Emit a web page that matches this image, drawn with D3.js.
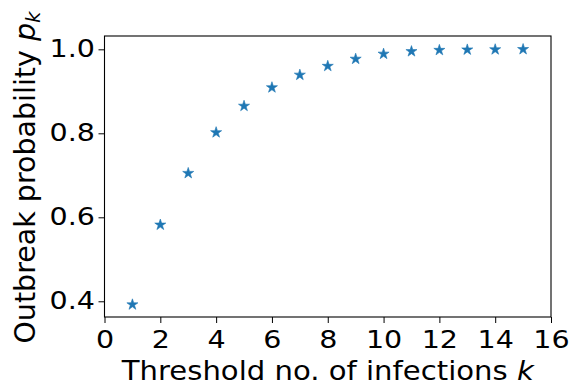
<!DOCTYPE html>
<html>
<head>
<meta charset="utf-8">
<script src="https://cdn.jsdelivr.net/npm/d3@7"></script>
<style>
  html, body { margin: 0; padding: 0; background: #fff; }
  svg { display: block; font-family: "DejaVu Sans", sans-serif; }
</style>
</head>
<body>
<svg id="chart" width="570" height="384"></svg>
<script>
// Threshold number of infections k
const thresholds = [1, 2, 3, 4, 5, 6, 7, 8, 9, 10, 11, 12, 13, 14, 15];
// Outbreak probability p_k for each threshold
const probabilities = [0.392, 0.582, 0.705, 0.802, 0.865, 0.909, 0.939, 0.960, 0.977, 0.989, 0.995, 0.998, 0.999, 0.9995, 1.0];
const xTicks = [0, 2, 4, 6, 8, 10, 12, 14, 16];
const yTicks = [0.4, 0.6, 0.8, 1.0];

const svg = d3.select("#chart");
const plotLeft = 104.5, plotRight = 551, plotTop = 36, plotBottom = 317;
const tickFont = 25.5, labelFont = 26, wide = 1.12; // glyphs are drawn slightly wide

const x = d3.scaleLinear().domain([0, 16]).range([plotLeft, plotRight]);
const y = d3.scaleLinear().domain([0.3626, 1.0317]).range([plotBottom, plotTop]);

// x axis
const xAxis = svg.append("g")
  .attr("transform", `translate(0,${plotBottom})`)
  .call(d3.axisBottom(x).tickValues(xTicks).tickFormat(d3.format("d")).tickSize(6).tickSizeOuter(0));
xAxis.select(".domain").remove();
xAxis.selectAll("line").attr("stroke", "#000").attr("stroke-width", 1);
xAxis.selectAll("text")
  .attr("font-size", tickFont).attr("fill", "#000").attr("font-family", "DejaVu Sans")
  .attr("y", 348 - plotBottom).attr("dy", null)
  .attr("transform", `scale(${wide},1)`);

// y axis
const yAxis = svg.append("g")
  .attr("transform", `translate(${plotLeft},0)`)
  .call(d3.axisLeft(y).tickValues(yTicks).tickFormat(d3.format(".1f")).tickSize(6).tickSizeOuter(0));
yAxis.select(".domain").remove();
yAxis.selectAll("line").attr("stroke", "#000").attr("stroke-width", 1);
yAxis.selectAll("text")
  .attr("font-size", tickFont).attr("fill", "#000").attr("font-family", "DejaVu Sans")
  .attr("x", -9.5 / wide).attr("dy", "0.3em")
  .attr("transform", `scale(${wide},1)`);

// plot frame
svg.append("rect")
  .attr("x", plotLeft).attr("y", plotTop)
  .attr("width", plotRight - plotLeft).attr("height", plotBottom - plotTop)
  .attr("fill", "none").attr("stroke", "#000").attr("stroke-width", 1.1);

// star markers
const star = d3.symbol().type(d3.symbolStar).size(38);
svg.append("g").selectAll("path")
  .data(thresholds.map((k, i) => ({ k, p: probabilities[i] })))
  .join("path")
  .attr("d", star)
  .attr("transform", d => `translate(${x(d.k)},${y(d.p)})`)
  .attr("fill", "#1f77b4")
  .attr("stroke", "#1f77b4")
  .attr("stroke-width", 0.6);

// axis titles
const xt = svg.append("text")
  .attr("transform", `translate(${(plotLeft + plotRight) / 2},379.5) scale(${wide},1)`)
  .attr("text-anchor", "middle").attr("font-size", labelFont).attr("fill", "#000");
xt.append("tspan").text("Threshold no. of infections ");
xt.append("tspan").attr("font-style", "italic").text("k");

const yLabelFont = 28.5;
const yt = svg.append("text")
  .attr("transform", `translate(35,177.5) rotate(-90)`)
  .attr("text-anchor", "middle").attr("font-size", yLabelFont).attr("fill", "#000");
yt.append("tspan").text("Outbreak probability ");
yt.append("tspan").attr("font-style", "italic").text("p");
yt.append("tspan").attr("font-style", "italic").attr("font-size", yLabelFont * 0.7).attr("dy", 5).text("k");
</script>
</body>
</html>
